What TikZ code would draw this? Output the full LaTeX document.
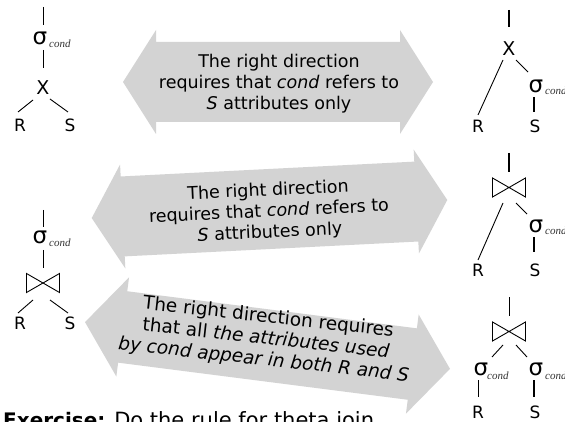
\documentclass[tikz,border=0pt]{standalone}
\usepackage{fontspec}
\setmainfont{DejaVu Sans}
\newfontfamily\condfont{Liberation Serif}
\usetikzlibrary{calc}
\definecolor{arrowgray}{RGB}{211,211,211}
\tikzset{
  bigarrow/.style={fill=arrowgray},
  lab/.style={inner sep=0pt, font=\fontsize{17}{17}\selectfont, text height=12.4pt, text depth=0pt},
  bigx/.style={inner sep=0pt, font=\fontsize{19}{19}\selectfont, text height=13.8pt, text depth=0pt},
  sig/.style={inner sep=0pt, font=\fontsize{23}{23}\selectfont, text height=12.6pt, text depth=0pt},
  cnd/.style={inner sep=0pt, anchor=base west, font=\condfont\itshape\fontsize{11}{11}\selectfont, text=black!80},
  thinln/.style={line width=0.9pt},
  thickln/.style={line width=2pt},
  msg/.style={align=center, inner sep=0pt, font=\fontsize{17.5}{21}\selectfont},
  bowtie/.pic={\draw[thinln] (-16.5,-9.5) -- (16.5,9.5) -- (16.5,-9.5) -- (-16.5,9.5) -- cycle;}
}
\begin{document}
\begin{tikzpicture}[x=1pt,y=-1pt]
\useasboundingbox (0,0) rectangle (565,422);
\clip (0,0) rectangle (565,422);

% ---------- double arrows ----------
\begin{scope}[shift={(278,82)}]
  \fill[bigarrow] (-155,0) -- (-122,-52) -- (-122,-40) -- (122,-40) -- (122,-52) -- (155,0)
    -- (122,52) -- (122,40) -- (-122,40) -- (-122,52) -- cycle;
\end{scope}
\begin{scope}[shift={(269.5,209)}, rotate=2.9]
  \fill[bigarrow] (-178,0) -- (-147,-52) -- (-147,-40) -- (147,-40) -- (147,-52) -- (178,0)
    -- (147,52) -- (147,40) -- (-147,40) -- (-147,52) -- cycle;
\end{scope}
\begin{scope}[shift={(267.5,345.5)}, rotate=-7.3]
  \fill[bigarrow] (-184,0) -- (-146,-50) -- (-146,-36) -- (146,-36) -- (146,-50) -- (184,0)
    -- (146,50) -- (146,36) -- (-146,36) -- (-146,50) -- cycle;
\end{scope}

\node[msg] (m1) at (279,84) {The right direction\\requires that \textit{cond} refers to\\\textit{S} attributes only};
\node[msg, rotate=2.7] (m2) at (269,212) {The right direction\\requires that \textit{cond} refers to\\\textit{S} attributes only};
\node[msg, rotate=-6.3, font=\fontsize{18.5}{21.5}\selectfont] (m3) at (266,339) {The right direction requires\\that all \textit{the attributes used}\\\textit{by cond appear in both R and S}};

% ---------- tree 1 (top left) ----------
\coordinate (top1) at (43,7);
\node[sig] (sig1) at (40,38.5) {σ};
\node[cnd] (c1) at (49,47.5) {cond};
\node[bigx] (x1) at (43,87.5) {X};
\node[lab] (r1) at (20,125.5) {R};
\node[lab] (s1) at (70,125.5) {S};
\draw[thinln] (top1) -- ($(sig1)+(3,-13.5)$);
\draw[thinln] ($(sig1)+(3,11.5)$) -- ($(x1)+(0,-19.5)$);
\draw[thinln] ($(x1)+(-10,12.5)$) -- ($(r1)+(-2,-13.5)$);
\draw[thinln] ($(x1)+(7,11.5)$) -- ($(s1)+(-2,-13.5)$);

% ---------- tree 5 (middle left) ----------
\coordinate (top5) at (43,210);
\node[sig] (sig5) at (40,237.5) {σ};
\node[cnd] (c5) at (49,247) {cond};
\coordinate (bt5) at (43,283);
\pic at (bt5) {bowtie};
\node[lab] (r5) at (20,323) {R};
\node[lab] (s5) at (70,323) {S};
\draw[thinln] (top5) -- ($(sig5)+(3,-10.5)$);
\draw[thinln] ($(sig5)+(3,12.5)$) -- ($(bt5)+(0,-15)$);
\draw[thinln] ($(bt5)+(-10,17)$) -- ($(r5)+(-2,-10)$);
\draw[thinln] ($(bt5)+(7,17)$) -- ($(s5)+(-2,-10)$);

% ---------- tree 2 (top right) ----------
\coordinate (top2) at (509,10);
\node[bigx] (x2) at (509,49) {X};
\node[sig] (sig2) at (536,86) {σ};
\node[cnd] (c2) at (545,95) {cond};
\node[lab] (r2) at (478,126) {R};
\node[lab] (s2) at (535,126) {S};
\draw[thickln] (top2) -- ($(x2)+(0,-22)$);
\draw[thinln] ($(x2)+(-6,11)$) -- ($(r2)+(0,-11)$);
\draw[thinln] ($(x2)+(7,11)$) -- ($(sig2)+(-8,-14)$);
\draw[thickln] ($(sig2)+(-2,11)$) -- ($(s2)+(-1,-14)$);

% ---------- tree 3 (middle right) ----------
\coordinate (top3) at (509,153);
\coordinate (bt3) at (509,187.5);
\pic at (bt3) {bowtie};
\node[sig] (sig3) at (536,226) {σ};
\node[cnd] (c3) at (545,235) {cond};
\node[lab] (r3) at (478,270) {R};
\node[lab] (s3) at (535,270) {S};
\draw[thickln] (top3) -- ($(bt3)+(0,-15.5)$);
\draw[thinln] ($(bt3)+(-6,15.5)$) -- ($(r3)+(0,-10)$);
\draw[thinln] ($(bt3)+(7,15.5)$) -- ($(sig3)+(-9,-12)$);
\draw[thickln] ($(sig3)+(-2,11)$) -- ($(s3)+(-1,-18)$);

% ---------- tree 4 (bottom right) ----------
\coordinate (top4) at (509,297);
\coordinate (bt4) at (509,331.5);
\pic at (bt4) {bowtie};
\node[sig] (sig4a) at (481,369) {σ};
\node[cnd] (c4a) at (487,379) {cond};
\node[sig] (sig4b) at (536,369) {σ};
\node[cnd] (c4b) at (545,379) {cond};
\node[lab] (r4) at (478,412) {R};
\node[lab] (s4) at (535,412) {S};
\draw[thinln] (top4) -- ($(bt4)+(0,-16)$);
\draw[thinln] ($(bt4)+(-6,13.5)$) -- ($(sig4a)+(11,-12)$);
\draw[thinln] ($(bt4)+(7,13.5)$) -- ($(sig4b)+(-9,-12)$);
\draw[thinln] ($(sig4a)+(-3,11)$) -- ($(r4)+(0,-15)$);
\draw[thickln] ($(sig4b)+(-2,11)$) -- ($(s4)+(-1,-15)$);

% ---------- exercise ----------
\node[anchor=base west, inner sep=0pt, font=\fontsize{21}{24}\selectfont] (ex) at (3,427) {{\fontsize{20}{24}\selectfont\bfseries Exercise:} Do the rule for theta join};
\end{tikzpicture}
\end{document}
